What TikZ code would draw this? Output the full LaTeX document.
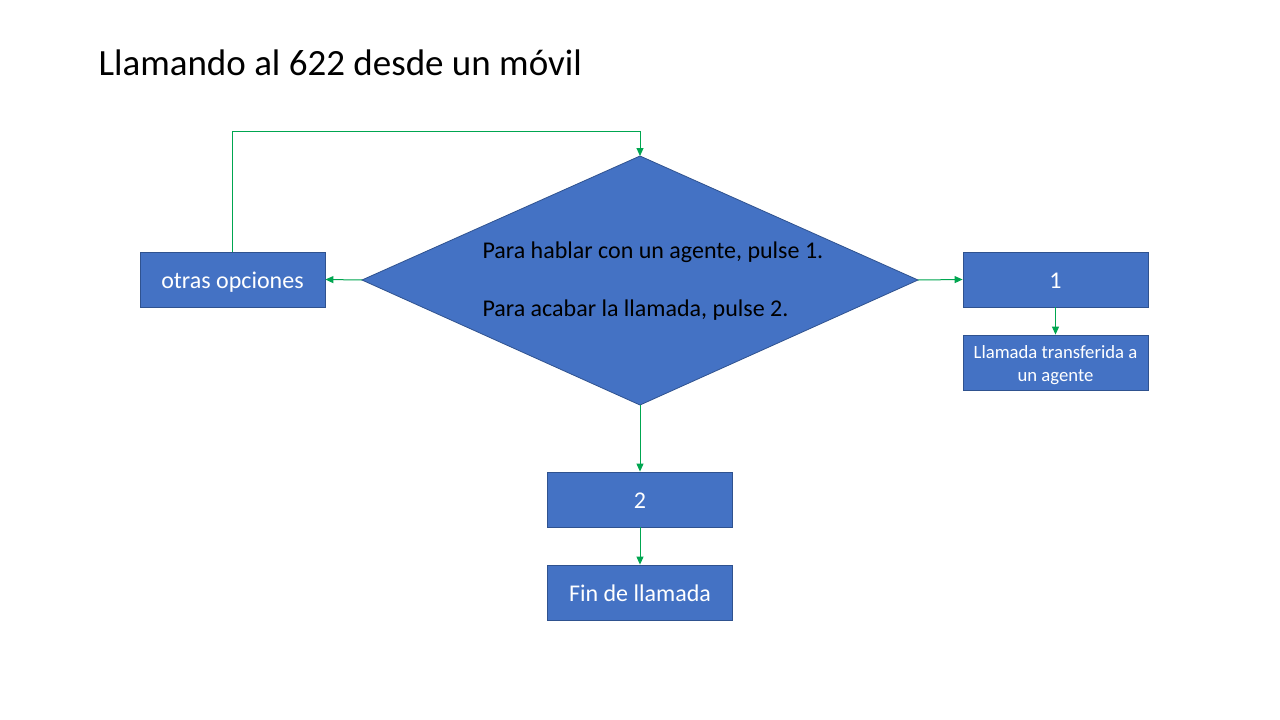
\documentclass[tikz,border=0pt]{standalone}
\usepackage{fontspec}
\setmainfont{Carlito}
\usetikzlibrary{shapes.geometric,arrows.meta}
\definecolor{boxfill}{HTML}{4472C4}
\definecolor{boxline}{HTML}{2F528F}
\definecolor{arrowc}{HTML}{00A650}
\begin{document}
\begin{tikzpicture}[x=1pt,y=-1pt,
  basebox/.style={draw=boxline,fill=boxfill,line width=0.8pt,minimum width=185pt,minimum height=55pt,inner sep=0pt,text=white,align=center},
  box/.style={basebox,font=\fontsize{24}{28}\selectfont,text height=20pt,text depth=2pt},
  smallbox/.style={basebox,font=\fontsize{18.7}{23}\selectfont},
  conn/.style={draw=arrowc,line width=1pt,-{Triangle[length=8pt,width=7pt]}}]
\useasboundingbox (0,0) rectangle (1280,720);
\fill[white] (0,0) rectangle (1280,720);
\node[anchor=west,font=\fontsize{37}{44}\selectfont] (title) at (95,63) {Llamando al 622 desde un móvil};
\coordinate (dt) at (640,156);
\coordinate (dl) at (362,280);
\coordinate (dr) at (918,280);
\coordinate (db) at (640,405);
\path[draw=boxline,fill=boxfill,line width=0.8pt] (dt) -- (dr) -- (db) -- (dl) -- cycle;
\node[anchor=west,font=\fontsize{24}{28}\selectfont] (t1) at (479,252) {Para hablar con un agente, pulse 1.};
\node[anchor=west,font=\fontsize{24}{28}\selectfont] (t2) at (479,310) {Para acabar la llamada, pulse 2.};
\node[box] (otras) at (232.5,279.5) {otras opciones};
\node[box] (uno) at (1055.5,279.5) {1};
\node[smallbox] (trans) at (1055.5,362.5) {\raisebox{-3pt}[\height][\depth]{\begin{tabular}{@{}c@{}}Llamada transferida a\\un agente\end{tabular}}};
\node[box] (dos) at (640,499.5) {2};
\node[box] (fin) at (640,592.5) {Fin de llamada};
\draw[conn] (dl) -- (otras.east);
\draw[conn] (dr) -- (uno.west);
\draw[conn] (uno.south) -- (trans.north);
\draw[conn] (db) -- (dos.north);
\draw[conn] (dos.south) -- (fin.north);
\draw[conn] (otras.north) -- (232.5,131) -- (640,131) -- (dt);
\end{tikzpicture}
\end{document}
